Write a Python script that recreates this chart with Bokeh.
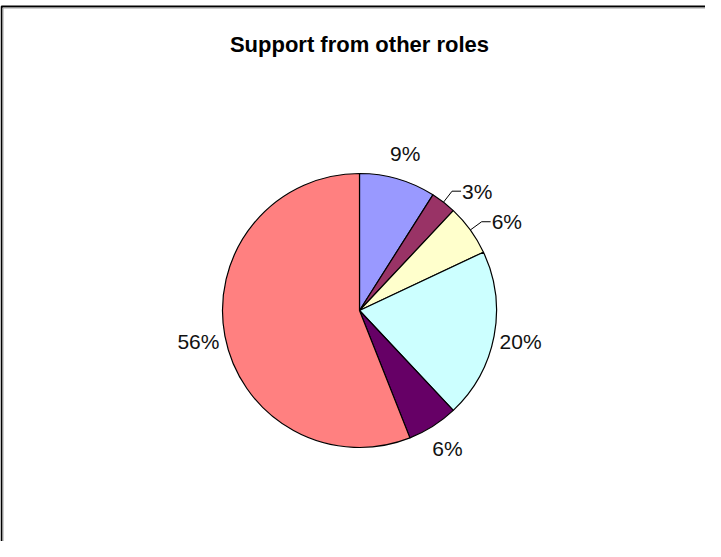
import math
from bokeh.plotting import figure
from bokeh.models import Range1d, ColumnDataSource
from bokeh.core.properties import value
from bokeh.embed import file_html
from bokeh.resources import INLINE

# ---- data ----
title_text = "Support from other roles"
categories = ["A", "B", "C", "D", "E", "F"]
shares = [9, 3, 6, 20, 6, 56]
labels = ["9%", "3%", "6%", "20%", "6%", "56%"]
colors = ["#9999FF", "#993366", "#FFFFCC", "#CCFFFF", "#660066", "#FF8080"]
has_leader = [False, True, True, False, False, False]

# ---- layout ----
W, H = 705, 541
cx, cy = 359, 231          # pie centre (figure pixels, y up)
R = 137                    # pie radius in px
R_LABEL = 164
R_BEND = 151

p = figure(width=W, height=H, output_backend="svg", toolbar_location=None,
           x_range=Range1d(0, W), y_range=Range1d(0, H), min_border=0)
p.axis.visible = False
p.grid.visible = False
p.outline_line_color = None
p.background_fill_color = "white"

# border (frame of the chart area, extends past right/bottom)
p.line([1, 1, W + 5], [-5, H - 6, H - 6], line_color="black", line_width=2)
p.line([2.5, 2.5, W + 5], [-5, H - 7.5, H - 7.5], line_color="#A0A0A0", line_width=1)

total = float(sum(shares))
starts, ends, mids = [], [], []
cum = 0.0
for s in shares:
    a0 = math.pi / 2 - 2 * math.pi * cum / total
    cum += s
    a1 = math.pi / 2 - 2 * math.pi * cum / total
    starts.append(a1)
    ends.append(a0)
    mids.append((a0 + a1) / 2)

src = ColumnDataSource(dict(x=[cx] * len(shares), y=[cy] * len(shares),
                            start=starts, end=ends, color=colors))
p.wedge(x="x", y="y", radius=R, radius_units="screen", start_angle="start",
        end_angle="end", fill_color="color", line_color="black", line_width=1.2,
        source=src)

# labels
cx_txt, cy_txt, ctxt = [], [], []
lx_txt, ly_txt, ltxt = [], [], []
for lab, m, lead in zip(labels, mids, has_leader):
    if lead:
        ex, ey = cx + R * math.cos(m), cy + R * math.sin(m)
        bx, by = cx + R_BEND * math.cos(m), cy + R_BEND * math.sin(m)
        p.line([ex, bx, bx + 9], [ey, by, by], line_color="black", line_width=1)
        lx_txt.append(bx + 10)
        ly_txt.append(by)
        ltxt.append(lab)
    else:
        cx_txt.append(cx + R_LABEL * math.cos(m))
        cy_txt.append(cy + R_LABEL * math.sin(m))
        ctxt.append(lab)

p.text(x=cx_txt, y=cy_txt, text=ctxt, text_align="center", text_baseline="middle",
       text_font=value("Liberation Sans"), text_font_size="21px", text_color="#111111")
p.text(x=lx_txt, y=ly_txt, text=ltxt, text_align="left", text_baseline="middle",
       text_font=value("Liberation Sans"), text_font_size="21px", text_color="#111111")

# title
p.text(x=[cx], y=[H - 44], text=[title_text], text_align="center", text_baseline="middle",
       text_font=value("Liberation Sans"), text_font_size="22px", text_font_style="bold",
       text_color="black")

open("out.html", "w").write(file_html(p, INLINE))
